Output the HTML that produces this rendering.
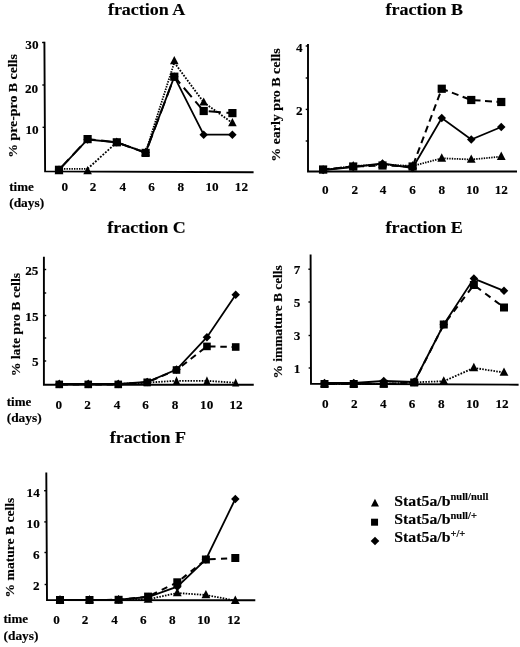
<!DOCTYPE html><html><head><meta charset="utf-8"><style>html,body{margin:0;padding:0;background:#fff;}svg{display:block;filter:grayscale(1);}text{font-family:"Liberation Serif",serif;font-weight:bold;fill:#000;stroke:#000;stroke-width:0.15px;}</style></head><body>
<svg width="520" height="647" viewBox="0 0 520 647">
<text transform="translate(146.6 14.8) scale(1 0.94)" font-size="18" text-anchor="middle">fraction A</text>
<path d="M44.4 41.8L45.1 171.35L253.6 172.3" fill="none" stroke="#000" stroke-width="1.9"/>
<path d="M44.40 42.5h-2.3" stroke="#000" stroke-width="1.4"/>
<path d="M44.63 85h-2.3" stroke="#000" stroke-width="1.4"/>
<path d="M44.86 127.3h-2.3" stroke="#000" stroke-width="1.4"/>
<text transform="translate(38.5 49)" font-size="13.2" text-anchor="end">30</text>
<text transform="translate(38.2 92.6)" font-size="13.2" text-anchor="end">20</text>
<text transform="translate(38.6 133.8)" font-size="13.2" text-anchor="end">10</text>
<text transform="translate(64.9 190.5)" font-size="13.2" text-anchor="middle">0</text>
<text transform="translate(93.0 190.5)" font-size="13.2" text-anchor="middle">2</text>
<text transform="translate(122.8 190.5)" font-size="13.2" text-anchor="middle">4</text>
<text transform="translate(151.5 190.5)" font-size="13.2" text-anchor="middle">6</text>
<text transform="translate(180.9 190.5)" font-size="13.2" text-anchor="middle">8</text>
<text transform="translate(212.0 190.5)" font-size="13.2" text-anchor="middle">10</text>
<text transform="translate(241.4 190.5)" font-size="13.2" text-anchor="middle">12</text>
<text x="9.2" y="190.6" font-size="13">time</text>
<text x="9.2" y="206.6" font-size="13" textLength="35" lengthAdjust="spacingAndGlyphs">(days)</text>
<text transform="translate(17.1 105.95) rotate(-90)" x="0" y="0" font-size="13.5" text-anchor="middle" textLength="103.6" lengthAdjust="spacingAndGlyphs">% pre-pro B cells</text>
<line x1="59.00" y1="168.80" x2="87.60" y2="168.80" stroke="#000" stroke-width="1.8" stroke-dasharray="1.38 1.12"/>
<line x1="87.60" y1="168.80" x2="116.80" y2="142.30" stroke="#000" stroke-width="1.8" stroke-dasharray="1.86 1.52"/>
<line x1="116.80" y1="142.30" x2="145.60" y2="152.40" stroke="#000" stroke-width="1.8" stroke-dasharray="1.46 1.19"/>
<line x1="145.60" y1="152.40" x2="174.30" y2="62.50" stroke="#000" stroke-width="1.8" stroke-dasharray="1.44 1.18"/>
<line x1="174.30" y1="62.50" x2="203.70" y2="102.30" stroke="#000" stroke-width="1.8" stroke-dasharray="1.71 1.40"/>
<line x1="203.70" y1="102.30" x2="232.40" y2="123.00" stroke="#000" stroke-width="1.8" stroke-dasharray="1.70 1.39"/>
<polyline points="59.00,169.80 87.60,139.10 116.80,142.30 145.60,152.90 174.30,76.70 203.70,111.00 232.40,113.10" fill="none" stroke="#000" stroke-width="2" stroke-dasharray="12.2 5.6" stroke-dashoffset="15.58"/>
<polyline points="59.00,169.80 87.60,139.50 116.80,142.30 145.60,152.50 174.30,76.70 203.70,134.70 232.40,134.70" fill="none" stroke="#000" stroke-width="1.8"/>
<g fill="#000">
<path d="M59.00 166.03L63.30 174.23L54.70 174.23Z"/>
<path d="M87.60 166.03L91.90 174.23L83.30 174.23Z"/>
<path d="M116.80 137.38L121.10 145.58L112.50 145.58Z"/>
<path d="M145.60 147.48L149.90 155.68L141.30 155.68Z"/>
<path d="M174.30 55.98L178.60 64.18L170.00 64.18Z"/>
<path d="M203.70 97.38L208.00 105.58L199.40 105.58Z"/>
<path d="M232.40 118.08L236.70 126.28L228.10 126.28Z"/>
<rect x="54.90" y="165.70" width="8.20" height="8.20"/>
<rect x="83.50" y="135.00" width="8.20" height="8.20"/>
<rect x="112.70" y="138.20" width="8.20" height="8.20"/>
<rect x="141.50" y="148.80" width="8.20" height="8.20"/>
<rect x="170.20" y="72.60" width="8.20" height="8.20"/>
<rect x="199.60" y="106.90" width="8.20" height="8.20"/>
<rect x="228.30" y="109.00" width="8.20" height="8.20"/>
<path d="M59.00 165.55L63.25 169.80L59.00 174.05L54.75 169.80Z"/>
<path d="M87.60 135.25L91.85 139.50L87.60 143.75L83.35 139.50Z"/>
<path d="M116.80 138.05L121.05 142.30L116.80 146.55L112.55 142.30Z"/>
<path d="M145.60 148.25L149.85 152.50L145.60 156.75L141.35 152.50Z"/>
<path d="M174.30 72.45L178.55 76.70L174.30 80.95L170.05 76.70Z"/>
<path d="M203.70 130.45L207.95 134.70L203.70 138.95L199.45 134.70Z"/>
<path d="M232.40 130.45L236.65 134.70L232.40 138.95L228.15 134.70Z"/>
</g>
<text transform="translate(424.3 14.8) scale(1 0.94)" font-size="18" text-anchor="middle">fraction B</text>
<path d="M308.0 44L308.0 171.5L517 171.5" fill="none" stroke="#000" stroke-width="1.9"/>
<path d="M308.00 46h-2.3" stroke="#000" stroke-width="1.4"/>
<path d="M308.00 78h-2.3" stroke="#000" stroke-width="1.4"/>
<path d="M308.00 109.4h-2.3" stroke="#000" stroke-width="1.4"/>
<path d="M308.00 141h-2.3" stroke="#000" stroke-width="1.4"/>
<text transform="translate(302.6 52.0)" font-size="13.2" text-anchor="end">4</text>
<text transform="translate(302.6 114.8)" font-size="13.2" text-anchor="end">2</text>
<text transform="translate(325.3 193.7)" font-size="13.2" text-anchor="middle">0</text>
<text transform="translate(354.8 193.7)" font-size="13.2" text-anchor="middle">2</text>
<text transform="translate(383.0 193.7)" font-size="13.2" text-anchor="middle">4</text>
<text transform="translate(412.5 193.7)" font-size="13.2" text-anchor="middle">6</text>
<text transform="translate(441.75 193.7)" font-size="13.2" text-anchor="middle">8</text>
<text transform="translate(472.5 193.7)" font-size="13.2" text-anchor="middle">10</text>
<text transform="translate(501.25 193.7)" font-size="13.2" text-anchor="middle">12</text>
<text transform="translate(280.3 105.15) rotate(-90)" x="0" y="0" font-size="13.5" text-anchor="middle" textLength="113.4" lengthAdjust="spacingAndGlyphs">% early pro B cells</text>
<line x1="323.10" y1="170.00" x2="353.20" y2="166.00" stroke="#000" stroke-width="1.8" stroke-dasharray="1.39 1.13"/>
<line x1="353.20" y1="166.00" x2="382.50" y2="164.50" stroke="#000" stroke-width="1.8" stroke-dasharray="1.38 1.13"/>
<line x1="382.50" y1="164.50" x2="412.60" y2="166.00" stroke="#000" stroke-width="1.8" stroke-dasharray="1.38 1.13"/>
<line x1="412.60" y1="166.00" x2="441.75" y2="158.30" stroke="#000" stroke-width="1.8" stroke-dasharray="1.42 1.16"/>
<line x1="441.75" y1="158.30" x2="471.25" y2="159.50" stroke="#000" stroke-width="1.8" stroke-dasharray="1.38 1.13"/>
<line x1="471.25" y1="159.50" x2="501.25" y2="156.60" stroke="#000" stroke-width="1.8" stroke-dasharray="1.38 1.13"/>
<polyline points="323.10,169.50 353.20,166.50 382.50,165.50 412.60,166.50 441.75,88.75 471.25,100.00 501.25,102.00" fill="none" stroke="#000" stroke-width="2" stroke-dasharray="7.0 4.5" stroke-dashoffset="0.42"/>
<polyline points="323.10,170.00 353.20,167.00 382.50,163.50 412.60,168.00 441.75,118.00 471.25,139.50 501.25,127.00" fill="none" stroke="#000" stroke-width="1.8"/>
<g fill="#000">
<path d="M323.10 164.96L327.50 173.36L318.70 173.36Z"/>
<path d="M353.20 160.96L357.60 169.36L348.80 169.36Z"/>
<path d="M382.50 159.46L386.90 167.86L378.10 167.86Z"/>
<path d="M412.60 160.96L417.00 169.36L408.20 169.36Z"/>
<path d="M441.75 153.26L446.15 161.66L437.35 161.66Z"/>
<path d="M471.25 154.46L475.65 162.86L466.85 162.86Z"/>
<path d="M501.25 151.56L505.65 159.96L496.85 159.96Z"/>
<rect x="319.00" y="165.40" width="8.20" height="8.20"/>
<rect x="349.10" y="162.40" width="8.20" height="8.20"/>
<rect x="378.40" y="161.40" width="8.20" height="8.20"/>
<rect x="408.50" y="162.40" width="8.20" height="8.20"/>
<rect x="437.65" y="84.65" width="8.20" height="8.20"/>
<rect x="467.15" y="95.90" width="8.20" height="8.20"/>
<rect x="497.15" y="97.90" width="8.20" height="8.20"/>
<path d="M323.10 165.75L327.35 170.00L323.10 174.25L318.85 170.00Z"/>
<path d="M353.20 162.75L357.45 167.00L353.20 171.25L348.95 167.00Z"/>
<path d="M382.50 159.25L386.75 163.50L382.50 167.75L378.25 163.50Z"/>
<path d="M412.60 163.75L416.85 168.00L412.60 172.25L408.35 168.00Z"/>
<path d="M441.75 113.75L446.00 118.00L441.75 122.25L437.50 118.00Z"/>
<path d="M471.25 135.25L475.50 139.50L471.25 143.75L467.00 139.50Z"/>
<path d="M501.25 122.75L505.50 127.00L501.25 131.25L497.00 127.00Z"/>
</g>
<text transform="translate(146.5 233.3) scale(1 0.94)" font-size="18" text-anchor="middle">fraction C</text>
<path d="M43.9 256.8L43.9 384.7L253.75 384.7" fill="none" stroke="#000" stroke-width="1.9"/>
<path d="M43.90 269.5h2.3" stroke="#000" stroke-width="1.4"/>
<path d="M43.90 293h2.3" stroke="#000" stroke-width="1.4"/>
<path d="M43.90 315.5h2.3" stroke="#000" stroke-width="1.4"/>
<path d="M43.90 338h2.3" stroke="#000" stroke-width="1.4"/>
<path d="M43.90 361h2.3" stroke="#000" stroke-width="1.4"/>
<text transform="translate(38.4 274.7)" font-size="13.2" text-anchor="end">25</text>
<text transform="translate(38.5 320.5)" font-size="13.2" text-anchor="end">15</text>
<text transform="translate(38.7 366.3)" font-size="13.2" text-anchor="end">5</text>
<text transform="translate(58.8 409)" font-size="13.2" text-anchor="middle">0</text>
<text transform="translate(87.5 409)" font-size="13.2" text-anchor="middle">2</text>
<text transform="translate(117.0 409)" font-size="13.2" text-anchor="middle">4</text>
<text transform="translate(145.5 409)" font-size="13.2" text-anchor="middle">6</text>
<text transform="translate(175.0 409)" font-size="13.2" text-anchor="middle">8</text>
<text transform="translate(206.7 409)" font-size="13.2" text-anchor="middle">10</text>
<text transform="translate(236.0 409)" font-size="13.2" text-anchor="middle">12</text>
<text x="6.7" y="406.3" font-size="13">time</text>
<text x="6.7" y="422.3" font-size="13" textLength="35" lengthAdjust="spacingAndGlyphs">(days)</text>
<text transform="translate(19.9 324.65) rotate(-90)" x="0" y="0" font-size="13.5" text-anchor="middle" textLength="103.4" lengthAdjust="spacingAndGlyphs">% late pro B cells</text>
<line x1="59.25" y1="384.00" x2="88.25" y2="384.00" stroke="#000" stroke-width="1.8" stroke-dasharray="1.54 1.26"/>
<line x1="88.25" y1="384.00" x2="118.25" y2="384.00" stroke="#000" stroke-width="1.8" stroke-dasharray="1.54 1.26"/>
<line x1="118.25" y1="384.00" x2="147.20" y2="382.60" stroke="#000" stroke-width="1.8" stroke-dasharray="1.54 1.26"/>
<line x1="147.20" y1="382.60" x2="176.50" y2="380.80" stroke="#000" stroke-width="1.8" stroke-dasharray="1.54 1.26"/>
<line x1="176.50" y1="380.80" x2="206.95" y2="380.80" stroke="#000" stroke-width="1.8" stroke-dasharray="1.54 1.26"/>
<line x1="206.95" y1="380.80" x2="235.70" y2="382.80" stroke="#000" stroke-width="1.8" stroke-dasharray="1.54 1.26"/>
<polyline points="59.25,384.40 88.25,384.40 118.25,384.40 147.20,382.30 176.50,370.00 206.95,346.40 235.70,347.00" fill="none" stroke="#000" stroke-width="2" stroke-dasharray="6.5 4.8" stroke-dashoffset="9.12"/>
<polyline points="59.25,384.00 88.25,384.00 118.25,384.00 147.20,382.00 176.50,369.60 206.95,337.20 235.70,294.80" fill="none" stroke="#000" stroke-width="1.8"/>
<g fill="#000">
<path d="M59.25 379.38L62.85 387.58L55.65 387.58Z"/>
<path d="M88.25 379.38L91.85 387.58L84.65 387.58Z"/>
<path d="M118.25 379.38L121.85 387.58L114.65 387.58Z"/>
<path d="M147.20 377.98L150.80 386.18L143.60 386.18Z"/>
<path d="M176.50 376.18L180.10 384.38L172.90 384.38Z"/>
<path d="M206.95 376.18L210.55 384.38L203.35 384.38Z"/>
<path d="M235.70 378.18L239.30 386.38L232.10 386.38Z"/>
<rect x="55.45" y="380.60" width="7.60" height="7.60"/>
<rect x="84.45" y="380.60" width="7.60" height="7.60"/>
<rect x="114.45" y="380.60" width="7.60" height="7.60"/>
<rect x="143.40" y="378.50" width="7.60" height="7.60"/>
<rect x="172.70" y="366.20" width="7.60" height="7.60"/>
<rect x="203.15" y="342.60" width="7.60" height="7.60"/>
<rect x="231.90" y="343.20" width="7.60" height="7.60"/>
<path d="M59.25 379.75L63.50 384.00L59.25 388.25L55.00 384.00Z"/>
<path d="M88.25 379.75L92.50 384.00L88.25 388.25L84.00 384.00Z"/>
<path d="M118.25 379.75L122.50 384.00L118.25 388.25L114.00 384.00Z"/>
<path d="M147.20 377.75L151.45 382.00L147.20 386.25L142.95 382.00Z"/>
<path d="M176.50 365.35L180.75 369.60L176.50 373.85L172.25 369.60Z"/>
<path d="M206.95 332.95L211.20 337.20L206.95 341.45L202.70 337.20Z"/>
<path d="M235.70 290.55L239.95 294.80L235.70 299.05L231.45 294.80Z"/>
</g>
<text transform="translate(424.15 233.3) scale(1 0.94)" font-size="18" text-anchor="middle">fraction E</text>
<path d="M310.6 254.4L311.0 383.8L518.6 384.7" fill="none" stroke="#000" stroke-width="1.9"/>
<path d="M310.65 269.2h-2.3" stroke="#000" stroke-width="1.4"/>
<path d="M310.75 302h-2.3" stroke="#000" stroke-width="1.4"/>
<path d="M310.85 335.5h-2.3" stroke="#000" stroke-width="1.4"/>
<path d="M310.95 368h-2.3" stroke="#000" stroke-width="1.4"/>
<text transform="translate(300.3 274)" font-size="13.2" text-anchor="end">7</text>
<text transform="translate(300.3 306.9)" font-size="13.2" text-anchor="end">5</text>
<text transform="translate(300.3 340)" font-size="13.2" text-anchor="end">3</text>
<text transform="translate(300.3 373)" font-size="13.2" text-anchor="end">1</text>
<text transform="translate(325.3 407.8)" font-size="13.2" text-anchor="middle">0</text>
<text transform="translate(354.2 407.8)" font-size="13.2" text-anchor="middle">2</text>
<text transform="translate(383.25 407.8)" font-size="13.2" text-anchor="middle">4</text>
<text transform="translate(412.0 407.8)" font-size="13.2" text-anchor="middle">6</text>
<text transform="translate(441.25 407.8)" font-size="13.2" text-anchor="middle">8</text>
<text transform="translate(472.5 407.8)" font-size="13.2" text-anchor="middle">10</text>
<text transform="translate(502.0 407.8)" font-size="13.2" text-anchor="middle">12</text>
<text transform="translate(281.7 321.85) rotate(-90)" x="0" y="0" font-size="13.5" text-anchor="middle" textLength="113.2" lengthAdjust="spacingAndGlyphs">% immature B cells</text>
<line x1="324.50" y1="384.00" x2="353.75" y2="384.00" stroke="#000" stroke-width="1.8" stroke-dasharray="1.54 1.26"/>
<line x1="353.75" y1="384.00" x2="383.75" y2="383.90" stroke="#000" stroke-width="1.8" stroke-dasharray="1.54 1.26"/>
<line x1="383.75" y1="383.90" x2="414.20" y2="382.30" stroke="#000" stroke-width="1.8" stroke-dasharray="1.54 1.26"/>
<line x1="414.20" y1="382.30" x2="443.75" y2="381.25" stroke="#000" stroke-width="1.8" stroke-dasharray="1.54 1.26"/>
<line x1="443.75" y1="381.25" x2="473.85" y2="367.90" stroke="#000" stroke-width="1.8" stroke-dasharray="1.68 1.38"/>
<line x1="473.85" y1="367.90" x2="504.00" y2="372.50" stroke="#000" stroke-width="1.8" stroke-dasharray="1.56 1.27"/>
<polyline points="324.50,384.00 353.75,384.00 383.75,383.90 414.20,382.50 443.75,324.50 473.85,285.00 504.00,307.50" fill="none" stroke="#000" stroke-width="2" stroke-dasharray="6.6 5.3" stroke-dashoffset="7.45"/>
<polyline points="324.50,383.00 353.75,383.00 383.75,381.00 414.20,382.00 443.75,324.50 473.85,278.60 504.00,290.85" fill="none" stroke="#000" stroke-width="1.8"/>
<g fill="#000">
<path d="M324.50 378.96L328.90 387.36L320.10 387.36Z"/>
<path d="M353.75 378.96L358.15 387.36L349.35 387.36Z"/>
<path d="M383.75 378.86L388.15 387.26L379.35 387.26Z"/>
<path d="M414.20 377.26L418.60 385.66L409.80 385.66Z"/>
<path d="M443.75 376.21L448.15 384.61L439.35 384.61Z"/>
<path d="M473.85 362.86L478.25 371.26L469.45 371.26Z"/>
<path d="M504.00 367.46L508.40 375.86L499.60 375.86Z"/>
<rect x="320.50" y="380.00" width="8.00" height="8.00"/>
<rect x="349.75" y="380.00" width="8.00" height="8.00"/>
<rect x="379.75" y="379.90" width="8.00" height="8.00"/>
<rect x="410.20" y="378.50" width="8.00" height="8.00"/>
<rect x="439.75" y="320.50" width="8.00" height="8.00"/>
<rect x="469.85" y="281.00" width="8.00" height="8.00"/>
<rect x="500.00" y="303.50" width="8.00" height="8.00"/>
<path d="M324.50 378.75L328.75 383.00L324.50 387.25L320.25 383.00Z"/>
<path d="M353.75 378.75L358.00 383.00L353.75 387.25L349.50 383.00Z"/>
<path d="M383.75 376.75L388.00 381.00L383.75 385.25L379.50 381.00Z"/>
<path d="M414.20 377.75L418.45 382.00L414.20 386.25L409.95 382.00Z"/>
<path d="M443.75 320.25L448.00 324.50L443.75 328.75L439.50 324.50Z"/>
<path d="M473.85 274.35L478.10 278.60L473.85 282.85L469.60 278.60Z"/>
<path d="M504.00 286.60L508.25 290.85L504.00 295.10L499.75 290.85Z"/>
</g>
<text transform="translate(147.9 443.3) scale(1 0.94)" font-size="18" text-anchor="middle">fraction F</text>
<path d="M46.3 472.4L47.0 600.1L255.3 600.3" fill="none" stroke="#000" stroke-width="1.9"/>
<path d="M46.40 490.7h-2.3" stroke="#000" stroke-width="1.4"/>
<path d="M46.57 521.9h-2.3" stroke="#000" stroke-width="1.4"/>
<path d="M46.74 552.5h-2.3" stroke="#000" stroke-width="1.4"/>
<path d="M46.91 584.5h-2.3" stroke="#000" stroke-width="1.4"/>
<text transform="translate(39.8 496.9)" font-size="13.2" text-anchor="end">14</text>
<text transform="translate(39.8 528)" font-size="13.2" text-anchor="end">10</text>
<text transform="translate(39.5 558.5)" font-size="13.2" text-anchor="end">6</text>
<text transform="translate(39.5 589.8)" font-size="13.2" text-anchor="end">2</text>
<text transform="translate(56.5 623.7)" font-size="13.2" text-anchor="middle">0</text>
<text transform="translate(85.1 623.7)" font-size="13.2" text-anchor="middle">2</text>
<text transform="translate(114.5 623.7)" font-size="13.2" text-anchor="middle">4</text>
<text transform="translate(143.4 623.7)" font-size="13.2" text-anchor="middle">6</text>
<text transform="translate(172.3 623.7)" font-size="13.2" text-anchor="middle">8</text>
<text transform="translate(203.8 623.7)" font-size="13.2" text-anchor="middle">10</text>
<text transform="translate(233.8 623.7)" font-size="13.2" text-anchor="middle">12</text>
<text x="3.5" y="623.3" font-size="13">time</text>
<text x="3.5" y="639.6" font-size="13" textLength="35" lengthAdjust="spacingAndGlyphs">(days)</text>
<text transform="translate(13.9 547.55) rotate(-90)" x="0" y="0" font-size="13.5" text-anchor="middle" textLength="99.8" lengthAdjust="spacingAndGlyphs">% mature B cells</text>
<line x1="60.00" y1="600.00" x2="89.50" y2="600.00" stroke="#000" stroke-width="1.8" stroke-dasharray="1.54 1.26"/>
<line x1="89.50" y1="600.00" x2="118.60" y2="600.00" stroke="#000" stroke-width="1.8" stroke-dasharray="1.54 1.26"/>
<line x1="118.60" y1="600.00" x2="148.10" y2="599.30" stroke="#000" stroke-width="1.8" stroke-dasharray="1.54 1.26"/>
<line x1="148.10" y1="599.30" x2="177.30" y2="593.00" stroke="#000" stroke-width="1.8" stroke-dasharray="1.58 1.29"/>
<line x1="177.30" y1="593.00" x2="205.90" y2="595.00" stroke="#000" stroke-width="1.8" stroke-dasharray="1.54 1.26"/>
<line x1="205.90" y1="595.00" x2="235.30" y2="600.60" stroke="#000" stroke-width="1.8" stroke-dasharray="1.57 1.28"/>
<polyline points="60.00,600.00 89.50,600.00 118.60,599.80 148.10,596.60 177.30,582.30 205.90,559.50 235.30,558.00" fill="none" stroke="#000" stroke-width="2" stroke-dasharray="6.2 5.3" stroke-dashoffset="0.04"/>
<polyline points="60.00,600.00 89.50,600.00 118.60,599.60 148.10,597.00 177.30,586.70 205.90,559.50 235.30,499.00" fill="none" stroke="#000" stroke-width="1.8"/>
<g fill="#000">
<path d="M60.00 594.96L64.40 603.36L55.60 603.36Z"/>
<path d="M89.50 594.96L93.90 603.36L85.10 603.36Z"/>
<path d="M118.60 594.96L123.00 603.36L114.20 603.36Z"/>
<path d="M148.10 594.26L152.50 602.66L143.70 602.66Z"/>
<path d="M177.30 587.96L181.70 596.36L172.90 596.36Z"/>
<path d="M205.90 589.96L210.30 598.36L201.50 598.36Z"/>
<path d="M235.30 595.56L239.70 603.96L230.90 603.96Z"/>
<rect x="56.00" y="596.00" width="8.00" height="8.00"/>
<rect x="85.50" y="596.00" width="8.00" height="8.00"/>
<rect x="114.60" y="595.80" width="8.00" height="8.00"/>
<rect x="144.10" y="592.60" width="8.00" height="8.00"/>
<rect x="173.30" y="578.30" width="8.00" height="8.00"/>
<rect x="201.90" y="555.50" width="8.00" height="8.00"/>
<rect x="231.30" y="554.00" width="8.00" height="8.00"/>
<path d="M60.00 595.75L64.25 600.00L60.00 604.25L55.75 600.00Z"/>
<path d="M89.50 595.75L93.75 600.00L89.50 604.25L85.25 600.00Z"/>
<path d="M118.60 595.35L122.85 599.60L118.60 603.85L114.35 599.60Z"/>
<path d="M148.10 592.75L152.35 597.00L148.10 601.25L143.85 597.00Z"/>
<path d="M177.30 582.45L181.55 586.70L177.30 590.95L173.05 586.70Z"/>
<path d="M205.90 555.25L210.15 559.50L205.90 563.75L201.65 559.50Z"/>
<path d="M235.30 494.75L239.55 499.00L235.30 503.25L231.05 499.00Z"/>
</g>
<g fill="#000">
<path d="M374.95 498.84L378.95 506.44L370.95 506.44Z"/>
<rect x="371.05" y="518.70" width="7.00" height="7.00"/>
<path d="M375.00 536.75L379.30 541.05L375.00 545.35L370.70 541.05Z"/>
</g>
<text transform="translate(394.3 505.6) scale(1 0.92)" font-size="15.8">Stat5a/b<tspan font-size="10.5" dy="-5.6">null/null</tspan></text>
<text transform="translate(394.3 524.1) scale(1 0.92)" font-size="15.8">Stat5a/b<tspan font-size="10.5" dy="-5.6">null/+</tspan></text>
<text transform="translate(394.3 542.4) scale(1 0.92)" font-size="15.8">Stat5a/b<tspan font-size="10.5" dy="-5.6">+/+</tspan></text>
</svg></body></html>
